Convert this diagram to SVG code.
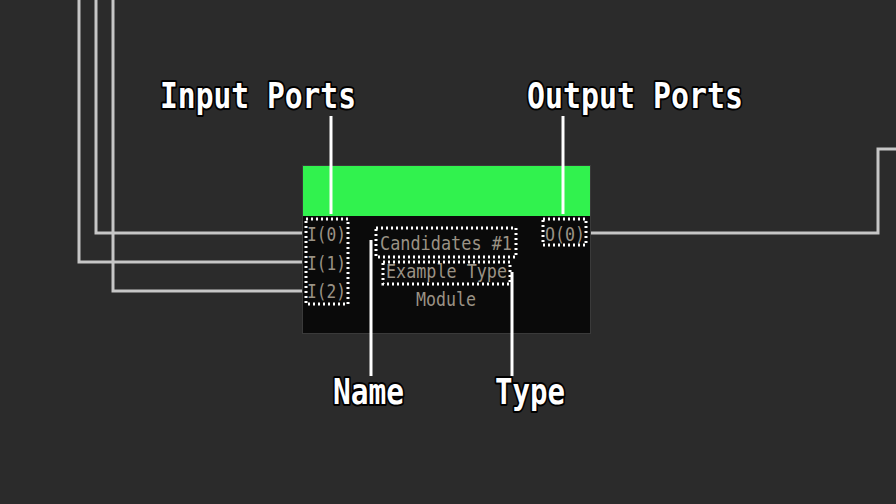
<svg xmlns="http://www.w3.org/2000/svg" width="896" height="504" viewBox="0 0 896 504">
<style>
.wire{fill:none;stroke:#c6c6c6;stroke-width:3}
.ptr{stroke:#ffffff;stroke-width:3;fill:none}
.dot{fill:none;stroke:#ffffff;stroke-width:3;stroke-dasharray:2 3}
.mono{font-family:"DejaVu Sans Mono",monospace;font-size:20px;fill:#9a9285}
.lbl{font-family:"DejaVu Sans Mono",monospace;font-weight:bold;font-size:36px;fill:#ffffff;stroke:#000000;stroke-width:4;paint-order:stroke;stroke-linejoin:round}
</style>
<rect width="896" height="504" fill="#2b2b2b"/>
<g id="connectors">
<polyline class="wire" points="96,0 96,233 303,233"/>
<polyline class="wire" points="79,0 79,262 303,262"/>
<polyline class="wire" points="113,0 113,291 303,291"/>
<polyline class="wire" points="590,233 878,233 878,149 896,149"/>
</g>
<g id="node">
<rect x="302.5" y="165.5" width="288" height="168" fill="#0a0a0a" stroke="#3a3a3a" stroke-width="1"/>
<rect x="303" y="166" width="287" height="50" fill="#31f24e"/>
<text class="mono" x="307" y="241" textLength="39" lengthAdjust="spacingAndGlyphs">I(0)</text>
<text class="mono" x="307" y="270" textLength="39" lengthAdjust="spacingAndGlyphs">I(1)</text>
<text class="mono" x="307" y="298" textLength="39" lengthAdjust="spacingAndGlyphs">I(2)</text>
<text class="mono" x="545" y="241" textLength="40" lengthAdjust="spacingAndGlyphs">O(0)</text>
<text class="mono" x="380" y="250" textLength="132" lengthAdjust="spacingAndGlyphs">Candidates #1</text>
<text class="mono" x="386" y="278" textLength="121" lengthAdjust="spacingAndGlyphs">Example Type</text>
<text class="mono" x="416" y="306" textLength="60" lengthAdjust="spacingAndGlyphs">Module</text>
</g>
<g id="annotations">
<rect class="dot" x="306" y="219" width="42" height="85"/>
<rect class="dot" x="543" y="219" width="43" height="26"/>
<rect class="dot" x="376" y="228" width="140" height="29"/>
<rect class="dot" x="383" y="262" width="127" height="22"/>
<line class="ptr" x1="331" y1="116" x2="331" y2="214"/>
<line class="ptr" x1="563" y1="116" x2="563" y2="214"/>
<line class="ptr" x1="371" y1="240" x2="371" y2="376"/>
<line class="ptr" x1="512" y1="272" x2="512" y2="376"/>
<text class="lbl" x="160" y="108" textLength="196" lengthAdjust="spacingAndGlyphs">Input Ports</text>
<text class="lbl" x="527" y="108" textLength="216" lengthAdjust="spacingAndGlyphs">Output Ports</text>
<text class="lbl" x="333" y="404" textLength="71" lengthAdjust="spacingAndGlyphs">Name</text>
<text class="lbl" x="495" y="404" textLength="70" lengthAdjust="spacingAndGlyphs">Type</text>
</g>
</svg>
